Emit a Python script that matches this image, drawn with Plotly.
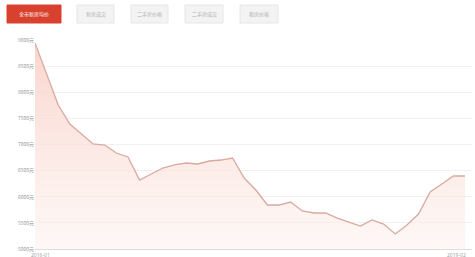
import plotly.graph_objects as go

months = []
y0, m0 = 2016, 1
for i in range(38):
    y = y0 + (m0 - 1 + i) // 12
    m = (m0 - 1 + i) % 12 + 1
    months.append(f"{y}-{m:02d}")

prices = [8943, 8350, 7756, 7392, 7200, 7010, 6990, 6837, 6761, 6320,
          6435, 6550, 6608, 6646, 6627, 6684, 6703, 6741, 6359, 6129,
          5842, 5842, 5899, 5727, 5689, 5689, 5593, 5517, 5440, 5555,
          5478, 5287, 5459, 5670, 6091, 6244, 6397, 6397]

y_ticks = [5000, 5500, 6000, 6500, 7000, 7500, 8000, 8500, 9000]
y_tick_labels = [f"{v}元" for v in y_ticks]

tabs = ["全市新房均价", "新房成交", "二手房价格", "二手房成交", "租房价格"]
tab_x = [(7, 61), (77, 114), (131, 168), (185, 223), (240, 278)]

W, H = 475, 257
L, R, T, B = 35, 3, 40, 8
PW, PH = W - L - R, H - T - B


def px(x):
    return (x - L) / PW


def py(y):
    return (H - B - y) / PH


fig = go.Figure()
fig.add_trace(go.Scatter(
    x=list(range(len(prices))), y=prices, mode="lines",
    line=dict(color="#d8a99f", width=1.3),
    fill="tozeroy",
    fillgradient=dict(type="vertical", start=5000, stop=9000,
                      colorscale=[[0, "rgba(253,243,240,0.6)"], [1, "rgba(249,205,196,0.85)"]]),
    hoverinfo="skip", showlegend=False))

shapes = []
annotations = []
for i, (t, (x0, x1)) in enumerate(zip(tabs, tab_x)):
    active = i == 0
    shapes.append(dict(type="rect", xref="paper", yref="paper",
                       x0=px(x0), x1=px(x1), y0=py(5), y1=py(23),
                       fillcolor="#d9412f" if active else "#f3f3f3",
                       line=dict(color="#d9412f" if active else "#e6e6e6", width=1)))
    annotations.append(dict(xref="paper", yref="paper",
                            x=px((x0 + x1) / 2), y=py(14), xanchor="center", yanchor="middle",
                            text=t, showarrow=False,
                            font=dict(size=5, color="#ffffff" if active else "#b0b0b0",
                                      family="Noto Sans CJK SC")))

for xi, lab in [(40, months[0]), (456, months[-1])]:
    annotations.append(dict(xref="paper", yref="paper", x=px(xi), y=py(250),
                            xanchor="center", yanchor="top", text=lab, showarrow=False,
                            font=dict(size=5, color="#999999")))

fig.update_layout(
    width=W, height=H,
    margin=dict(l=L, r=R, t=T, b=B),
    paper_bgcolor="white", plot_bgcolor="white",
    shapes=shapes, annotations=annotations,
    xaxis=dict(range=[0, 37.6], showticklabels=False, showgrid=False, zeroline=False,
               showline=True, linecolor="#dddddd", ticks="", automargin=False),
    yaxis=dict(range=[5000, 9000], tickmode="array", tickvals=y_ticks,
               ticktext=y_tick_labels, showgrid=True, gridcolor="#f0f0f0",
               zeroline=False, ticks="", automargin=False,
               tickfont=dict(size=5, color="#999999", family="Noto Sans CJK SC")),
)
fig.write_html("out.html", config={"displayModeBar": False},
               post_script="document.body.style.margin='0';document.body.style.overflow='hidden';")
